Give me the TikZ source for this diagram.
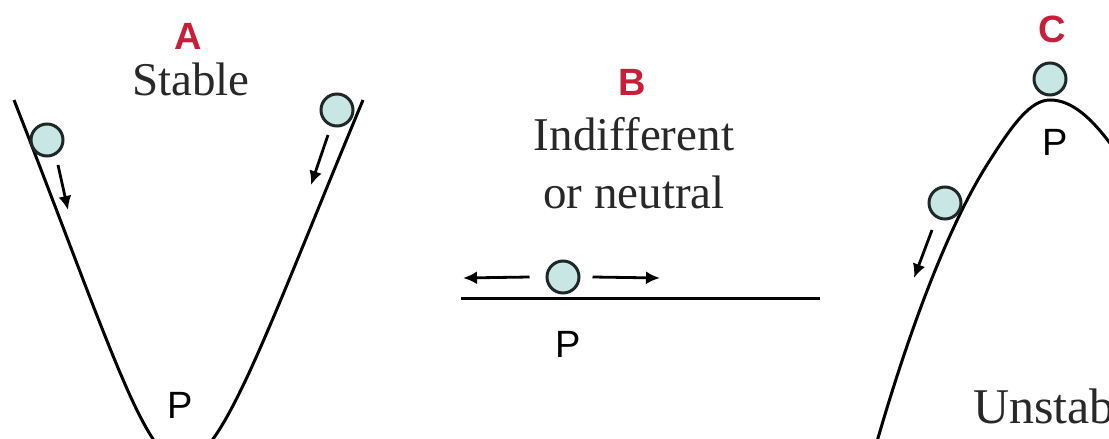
\documentclass[tikz,border=0pt]{standalone}
\usepackage{fontspec}
\setmainfont{Liberation Serif}
\newfontfamily\labelfont{Liberation Sans}
\usetikzlibrary{arrows.meta}
\definecolor{lblred}{RGB}{200,30,55}
\definecolor{ballfill}{RGB}{200,230,228}
\definecolor{balledge}{RGB}{30,40,40}
\definecolor{textgray}{RGB}{40,40,40}
\tikzset{
  ball/.style   = {circle, draw=balledge, fill=ballfill, line width=1.5pt,
                   minimum size=16pt, inner sep=0pt},
  track/.style  = {line width=1.5pt, black},
  push/.style   = {-{Latex[length=7pt, width=6.5pt]}, line width=1.4pt},
  tag/.style    = {font=\labelfont\bfseries\fontsize{19}{19}\selectfont,
                   text=lblred, anchor=base},
  ptag/.style   = {font=\labelfont\fontsize{19}{19}\selectfont, anchor=base},
  title/.style  = {font=\fontsize{23.5}{29}\selectfont, align=center, text=textgray},
}

\begin{document}
\begin{tikzpicture}[x=0.5pt, y=-0.5pt]
  \useasboundingbox (0,0) rectangle (1109,439);
  \clip (0,0) rectangle (1109,439);
  % A: stable
  \node[tag] (tagA) at (188,49) {A};
  \node[title, anchor=base] (stable) at (191,95) {Stable};
  \draw[track] (14,100) .. controls (110,345) and (145,462) .. (182,462)
               .. controls (222,462) and (265,335) .. (363,100);
  \node[ball] (ballA1) at (47,140) {};
  \node[ball] (ballA2) at (337,110) {};
  \coordinate (pushA1s) at (58,165);
  \coordinate (pushA1e) at (68,210);
  \coordinate (pushA2s) at (328,135);
  \coordinate (pushA2e) at (311,185);
  \draw[push] (pushA1s) -- (pushA1e);
  \draw[push] (pushA2s) -- (pushA2e);
  \node[ptag] (pA) at (180,418) {P};
  % B: indifferent
  \node[tag] (tagB) at (632,95) {B};
  \node[title] (neutral) at (634,163) {Indifferent\\or neutral};
  \coordinate (floorL) at (461,298);
  \coordinate (floorR) at (820,298);
  \draw[track] (floorL) -- (floorR);
  \node[ball] (ballB) at (563,277) {};
  \coordinate (pushBl) at (463,278);
  \coordinate (pushBr) at (660,278);
  \draw[push] (ballB.west) ++(-16,0) coordinate (pushBls) (pushBls) -- (pushBl);
  \draw[push] (ballB.east) ++(12,0) coordinate (pushBrs) (pushBrs) -- (pushBr);
  \node[ptag] (pB) at (568,357) {P};
  % C: unstable
  \node[tag] (tagC) at (1052,42) {C};
  \draw[track] (876,445) .. controls (912,320) and (950,225) .. (985,168)
               .. controls (1012,125) and (1030,100) .. (1050,100)
               .. controls (1072,100) and (1092,118) .. (1115,150);
  \node[ball] (ballC1) at (1050,79) {};
  \node[ball] (ballC2) at (945,203) {};
  \coordinate (pushCs) at (932,230);
  \coordinate (pushCe) at (914,278);
  \draw[push] (pushCs) -- (pushCe);
  \node[ptag] (pC) at (1055,155) {P};
  \node[title, anchor=base west, font=\fontsize{25}{29}\selectfont] (unstable)
       at (966,423) {Unstable};
\end{tikzpicture}
\end{document}
